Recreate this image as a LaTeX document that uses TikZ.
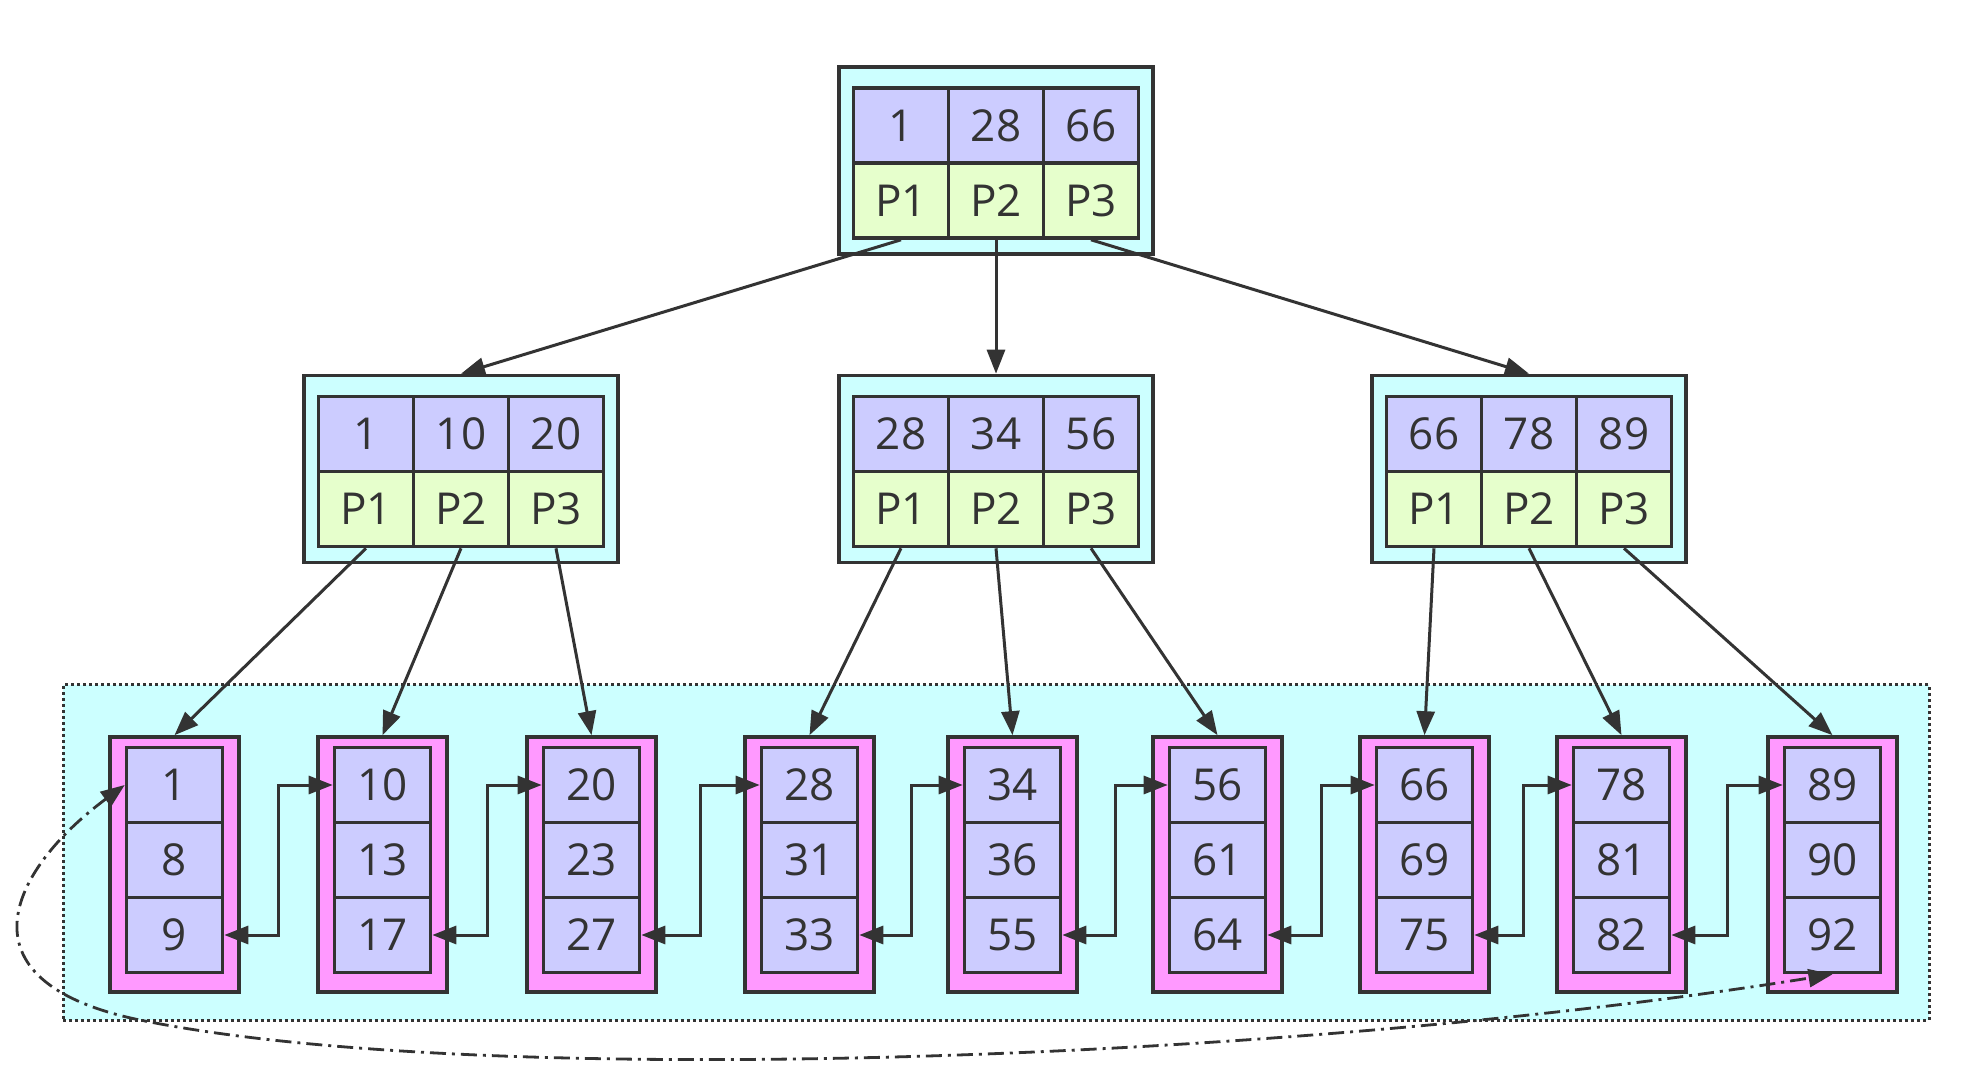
\documentclass[tikz,border=0pt]{standalone}
\usepackage{fontspec}
\setmainfont{Open Sans}
\usetikzlibrary{arrows.meta,calc}
\definecolor{keyblue}{HTML}{CCCCFF}
\definecolor{ptrgreen}{HTML}{E6FFCC}
\definecolor{boxcyan}{HTML}{CCFFFF}
\definecolor{leafpink}{HTML}{FF99FF}
\definecolor{ink}{HTML}{333333}

\begin{document}
\begin{tikzpicture}[x=0.5pt,y=-0.5pt,font=\fontsize{22}{26}\selectfont,
  nodebox/.style={draw=ink,line width=1.8pt,fill=boxcyan,minimum width=157pt,minimum height=93.5pt,inner sep=0pt},
  keycell/.style={draw=ink,line width=1.8pt,fill=keyblue,text=ink,minimum width=47.5pt,minimum height=37.5pt,inner sep=0pt},
  ptrcell/.style={keycell,fill=ptrgreen},
  leafbox/.style={draw=ink,line width=1.8pt,fill=leafpink,minimum width=64.5pt,minimum height=127.5pt,inner sep=0pt},
  leafcell/.style={keycell,minimum width=48pt},
  leafarea/.style={draw=ink,line width=1.5pt,dash pattern=on 1.5pt off 1.5pt,fill=boxcyan,minimum width=933pt,minimum height=167.5pt,inner sep=0pt},
  child/.style={draw=ink,line width=1.5pt,-{Triangle[length=12pt,width=9pt]}},
  sibling/.style={draw=ink,line width=1.5pt,{Triangle[length=12pt,width=9pt]}-{Triangle[length=12pt,width=9pt]}},
  wrap/.style={draw=ink,line width=1.4pt,dash pattern=on 8pt off 3pt on 1.5pt off 3pt,{Triangle[length=12pt,width=9pt]}-{Triangle[length=12pt,width=9pt]}}]

\useasboundingbox (0,0) rectangle (1966,1090);

% root
\node[nodebox] (root) at(996,160.5) {};
\node[keycell] (rk1) at(901,125.5) {1};
\node[keycell] (rk2) at(996,125.5) {28};
\node[keycell] (rk3) at(1091,125.5) {66};
\node[ptrcell] (rp1) at(901,200.5) {P1};
\node[ptrcell] (rp2) at(996,200.5) {P2};
\node[ptrcell] (rp3) at(1091,200.5) {P3};

% second level
\node[nodebox] (n1) at(461,469) {};
\node[keycell] (n1k1) at(366,434) {1};
\node[keycell] (n1k2) at(461,434) {10};
\node[keycell] (n1k3) at(556,434) {20};
\node[ptrcell] (n1p1) at(366,509) {P1};
\node[ptrcell] (n1p2) at(461,509) {P2};
\node[ptrcell] (n1p3) at(556,509) {P3};

\node[nodebox] (n2) at(996,469) {};
\node[keycell] (n2k1) at(901,434) {28};
\node[keycell] (n2k2) at(996,434) {34};
\node[keycell] (n2k3) at(1091,434) {56};
\node[ptrcell] (n2p1) at(901,509) {P1};
\node[ptrcell] (n2p2) at(996,509) {P2};
\node[ptrcell] (n2p3) at(1091,509) {P3};

\node[nodebox] (n3) at(1529,469) {};
\node[keycell] (n3k1) at(1434,434) {66};
\node[keycell] (n3k2) at(1529,434) {78};
\node[keycell] (n3k3) at(1624,434) {89};
\node[ptrcell] (n3p1) at(1434,509) {P1};
\node[ptrcell] (n3p2) at(1529,509) {P2};
\node[ptrcell] (n3p3) at(1624,509) {P3};

% leaves
\node[leafarea] (area) at(996,852.5) {};

\node[leafbox] (lf1) at(174.5,864.5) {};
\node[leafcell] (l1a) at(174.5,785) {1};
\node[leafcell] (l1b) at(174.5,860) {8};
\node[leafcell] (l1c) at(174.5,935) {9};

\node[leafbox] (lf2) at(382.5,864.5) {};
\node[leafcell] (l2a) at(382.5,785) {10};
\node[leafcell] (l2b) at(382.5,860) {13};
\node[leafcell] (l2c) at(382.5,935) {17};

\node[leafbox] (lf3) at(591.5,864.5) {};
\node[leafcell] (l3a) at(591.5,785) {20};
\node[leafcell] (l3b) at(591.5,860) {23};
\node[leafcell] (l3c) at(591.5,935) {27};

\node[leafbox] (lf4) at(809.5,864.5) {};
\node[leafcell] (l4a) at(809.5,785) {28};
\node[leafcell] (l4b) at(809.5,860) {31};
\node[leafcell] (l4c) at(809.5,935) {33};

\node[leafbox] (lf5) at(1012.5,864.5) {};
\node[leafcell] (l5a) at(1012.5,785) {34};
\node[leafcell] (l5b) at(1012.5,860) {36};
\node[leafcell] (l5c) at(1012.5,935) {55};

\node[leafbox] (lf6) at(1217.5,864.5) {};
\node[leafcell] (l6a) at(1217.5,785) {56};
\node[leafcell] (l6b) at(1217.5,860) {61};
\node[leafcell] (l6c) at(1217.5,935) {64};

\node[leafbox] (lf7) at(1424.5,864.5) {};
\node[leafcell] (l7a) at(1424.5,785) {66};
\node[leafcell] (l7b) at(1424.5,860) {69};
\node[leafcell] (l7c) at(1424.5,935) {75};

\node[leafbox] (lf8) at(1621.5,864.5) {};
\node[leafcell] (l8a) at(1621.5,785) {78};
\node[leafcell] (l8b) at(1621.5,860) {81};
\node[leafcell] (l8c) at(1621.5,935) {82};

\node[leafbox] (lf9) at(1832.5,864.5) {};
\node[leafcell] (l9a) at(1832.5,785) {89};
\node[leafcell] (l9b) at(1832.5,860) {90};
\node[leafcell] (l9c) at(1832.5,935) {92};

% pointers down
\draw[child] (rp1.south) -- (n1.north);
\draw[child] (rp2.south) -- (n2.north);
\draw[child] (rp3.south) -- (n3.north);

\draw[child] (n1p1.south) -- (lf1.north);
\draw[child] (n1p2.south) -- (lf2.north);
\draw[child] (n1p3.south) -- (lf3.north);
\draw[child] (n2p1.south) -- (lf4.north);
\draw[child] (n2p2.south) -- (lf5.north);
\draw[child] (n2p3.south) -- (lf6.north);
\draw[child] (n3p1.south) -- (lf7.north);
\draw[child] (n3p2.south) -- (lf8.north);
\draw[child] (n3p3.south) -- (lf9.north);

% leaf chain
\draw[sibling] (l1c.east) -| ($(lf1.east)!.5!(lf2.west)$) |- (l2a.west);
\draw[sibling] (l2c.east) -| ($(lf2.east)!.5!(lf3.west)$) |- (l3a.west);
\draw[sibling] (l3c.east) -| ($(lf3.east)!.5!(lf4.west)$) |- (l4a.west);
\draw[sibling] (l4c.east) -| ($(lf4.east)!.5!(lf5.west)$) |- (l5a.west);
\draw[sibling] (l5c.east) -| ($(lf5.east)!.5!(lf6.west)$) |- (l6a.west);
\draw[sibling] (l6c.east) -| ($(lf6.east)!.5!(lf7.west)$) |- (l7a.west);
\draw[sibling] (l7c.east) -| ($(lf7.east)!.5!(lf8.west)$) |- (l8a.west);
\draw[sibling] (l8c.east) -| ($(lf8.east)!.5!(lf9.west)$) |- (l9a.west);

\draw[wrap] (l1a.west) .. controls (10,870) and (-50,985) .. (150,1022)
  .. controls (500,1090) and (1300,1060) .. (l9c.south);

\end{tikzpicture}
\end{document}
